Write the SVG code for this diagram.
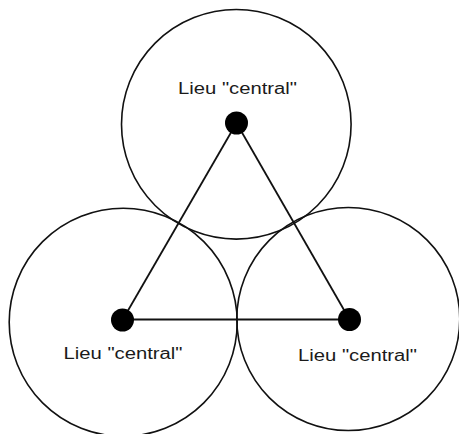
<svg xmlns="http://www.w3.org/2000/svg" width="459" height="434" viewBox="0 0 459 434">
<style>
.ring{fill:none;stroke:#111;stroke-width:1.6}
.dot{fill:#000}
.edge{stroke:#111;stroke-width:1.8;fill:none}
.lbl{font-family:"Liberation Sans",Arial,sans-serif;font-size:16px;fill:#1a1a1a;text-anchor:middle}
</style>
<rect width="459" height="434" fill="#fff"/>
<g id="circles">
<circle class="ring" cx="236.3" cy="124.3" r="114.8"/>
<circle class="ring" cx="123.2" cy="322.3" r="114"/>
<circle class="ring" cx="348.3" cy="319" r="111.5"/>
</g>
<g id="connectors">
<line class="edge" x1="236.5" y1="123" x2="122.5" y2="320"/>
<line class="edge" x1="236.5" y1="123" x2="349.5" y2="319.5"/>
<line class="edge" x1="122.5" y1="319.5" x2="349.5" y2="319.5"/>
</g>
<g id="node-top">
<circle class="dot" cx="236.5" cy="123" r="11.5"/>
<text class="lbl" x="237.5" y="94" textLength="119" lengthAdjust="spacingAndGlyphs">Lieu "central"</text>
</g>
<g id="node-left">
<circle class="dot" cx="122.5" cy="320" r="11.5"/>
<text class="lbl" x="123" y="359" textLength="119" lengthAdjust="spacingAndGlyphs">Lieu "central"</text>
</g>
<g id="node-right">
<circle class="dot" cx="349.5" cy="319.5" r="11.5"/>
<text class="lbl" x="357.5" y="361" textLength="119" lengthAdjust="spacingAndGlyphs">Lieu "central"</text>
</g>
</svg>
